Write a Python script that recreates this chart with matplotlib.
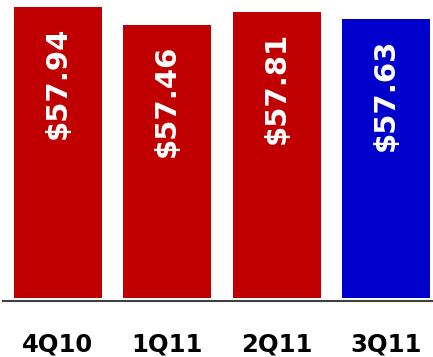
import matplotlib.pyplot as plt

# Receita média por trimestre
trimestres = ["4Q10", "1Q11", "2Q11", "3Q11"]
valores = [57.94, 57.46, 57.81, 57.63]
cores = ["#C00000", "#C00000", "#C00000", "#0000CC"]

base = 50.18  # início do eixo (gráfico truncado)

fig = plt.figure(figsize=(4.33, 3.57), dpi=100)
ax = fig.add_axes([3 / 433, 56 / 357, 430 / 433, 301 / 357])

x = range(len(trimestres))
alturas = [v - base for v in valores]
barras = ax.bar(x, alturas, bottom=base, width=0.8, color=cores)

# Rótulos de valor dentro das barras, na vertical
for xi, v in zip(x, valores):
    ax.annotate(f"${v:.2f}", xy=(xi, v), xytext=(0, -14), textcoords="offset points",
                rotation=90, ha="center", va="top", color="white",
                fontsize=21, fontweight="bold")

ax.set_xlim(-0.5, 3.427)
ax.set_ylim(base - 0.08, base - 0.08 + 301 / 37.5)

ax.set_xticks(list(x))
ax.set_xticklabels(trimestres, fontsize=17.5, fontweight="bold")
ax.tick_params(axis="x", length=0, pad=23)
ax.set_yticks([])

for lado in ["top", "left", "right"]:
    ax.spines[lado].set_visible(False)
ax.spines["bottom"].set_color("#404040")
ax.spines["bottom"].set_linewidth(1.5)

fig.savefig("out.png", dpi=100)
plt.close()
